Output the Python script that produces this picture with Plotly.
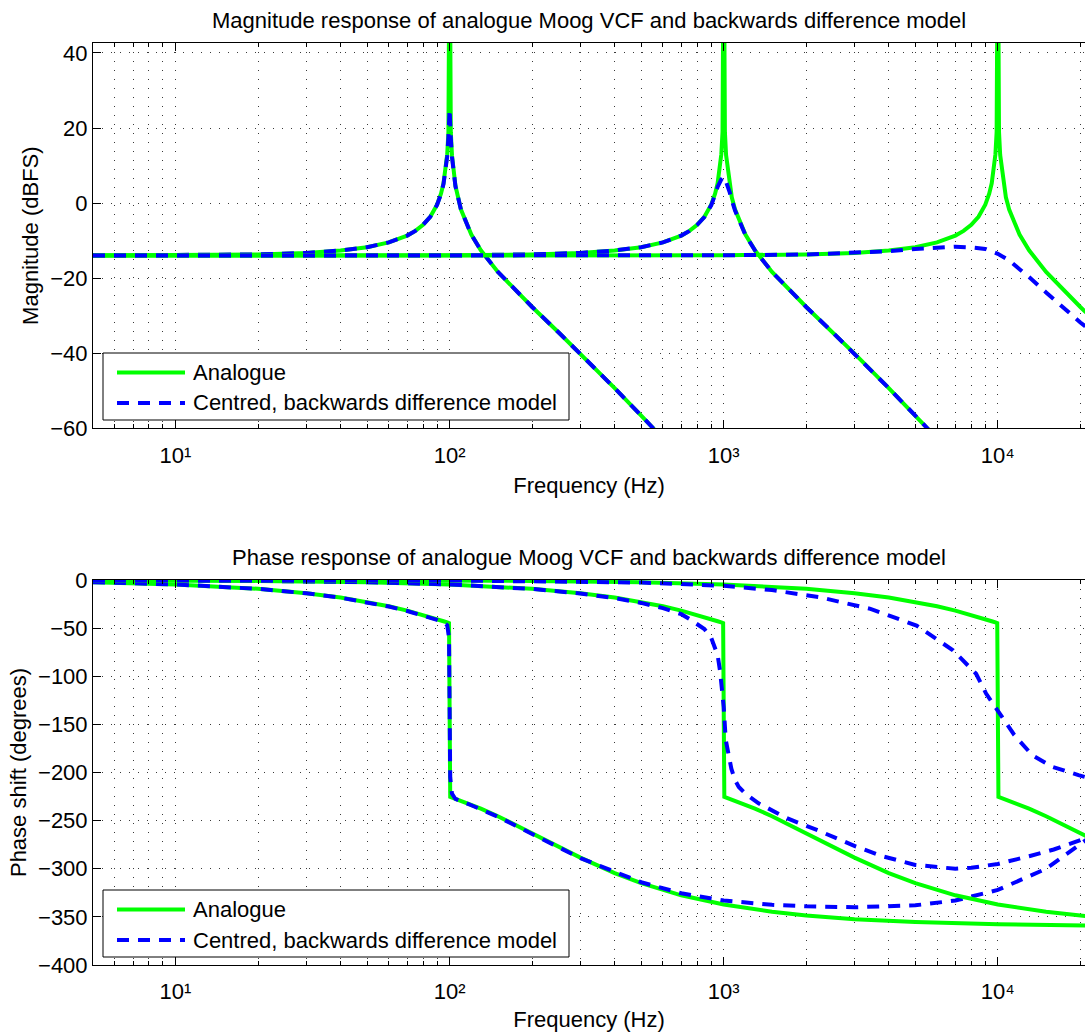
import math
import plotly.graph_objects as go

# ---------------- data ----------------
# Magnitude, analogue, fc = 100 Hz
f_mag_a100 = [5, 10, 20, 30, 40, 50, 60, 70, 75, 80, 85, 90, 93, 95, 98, 99, 100, 101, 102, 105, 107, 110,
              120, 130, 150, 200, 250, 300, 400, 500, 600]
mag_a100 = [-13.96, -13.90, -13.67, -13.26, -12.63, -11.74, -10.48, -8.65, -7.40, -5.79, -3.63, -0.41, 2.49,
            5.27, 13.05, 19.0, 80, 18.9, 12.78, 4.61, 1.56, -1.73, -8.39, -12.57, -18.33, -27.67, -34.47,
            -40.10, -49.29, -56.63, -62.7]
# Magnitude, model, fc = 100 Hz
f_mag_m100 = [5, 10, 20, 30, 40, 50, 60, 70, 75, 80, 85, 90, 93, 95, 98, 99, 100, 101, 102, 105, 107, 110,
              120, 130, 150, 200, 250, 300, 400, 500, 600]
mag_m100 = [-13.96, -13.90, -13.67, -13.26, -12.63, -11.74, -10.48, -8.65, -7.40, -5.79, -3.63, -0.45, 2.4,
            5.1, 12.5, 17.5, 25.0, 17.4, 12.3, 4.5, 1.5, -1.75, -8.4, -12.6, -18.33, -27.67, -34.47,
            -40.10, -49.29, -56.63, -62.7]
# Magnitude, analogue, fc = 1 kHz
f_mag_a1k = [5, 10, 50, 100, 200, 300, 400, 500, 600, 700, 750, 800, 850, 900, 930, 950, 980, 990, 1000,
             1010, 1020, 1050, 1070, 1100, 1200, 1300, 1500, 2000, 2500, 3000, 4000, 5000, 6000]
mag_a1k = [-13.98, -13.98, -13.96, -13.90, -13.67, -13.26, -12.63, -11.74, -10.48, -8.65, -7.40, -5.79, -3.63,
           -0.41, 2.49, 5.27, 13.05, 19.0, 80, 18.9, 12.78, 4.61, 1.56, -1.73, -8.39, -12.57, -18.33, -27.67,
           -34.47, -40.10, -49.29, -56.63, -62.7]
# Magnitude, model, fc = 1 kHz
f_mag_m1k = [5, 10, 50, 100, 200, 300, 400, 500, 600, 700, 750, 800, 850, 900, 930, 950, 980, 990, 1000,
             1010, 1020, 1050, 1070, 1100, 1200, 1300, 1500, 2000, 2500, 3000, 4000, 5000, 6000]
mag_m1k = [-13.98, -13.98, -13.96, -13.90, -13.67, -13.26, -12.63, -11.74, -10.48, -8.65, -7.40, -5.8, -3.7,
           -0.6, 2.3, 4.3, 6.3, 6.8, 7.0, 6.6, 5.8, 3.0, 0.8, -2.0, -8.5, -12.6, -18.33, -27.67,
           -34.47, -40.10, -49.29, -56.63, -62.7]
# Magnitude, analogue, fc = 10 kHz
f_mag_a10k = [5, 100, 500, 1000, 2000, 3000, 4000, 5000, 6000, 7000, 7500, 8000, 8500, 9000, 9300, 9500, 9800,
              9900, 10000, 10100, 10200, 10500, 10700, 11000, 12000, 13000, 15000, 20000, 21000]
mag_a10k = [-13.98, -13.98, -13.96, -13.90, -13.67, -13.26, -12.63, -11.74, -10.48, -8.65, -7.40, -5.79, -3.63,
            -0.41, 2.49, 5.27, 13.05, 19.0, 80, 18.9, 12.78, 4.61, 1.56, -1.73, -8.39, -12.57, -18.33,
            -27.67, -29.16]
# Magnitude, model, fc = 10 kHz
f_mag_m10k = [5, 100, 500, 1000, 2000, 3000, 4000, 5000, 6000, 7000, 8000, 9000, 10000, 11000, 12000, 13000,
              15000, 18000, 20000, 21000]
mag_m10k = [-13.98, -13.98, -13.96, -13.90, -13.7, -13.3, -12.8, -12.2, -11.8, -11.6, -11.8, -12.2, -13.5,
            -15.3, -17.6, -19.7, -23.8, -29.0, -31.8, -33.0]

# Phase, analogue, fc = 100 Hz
f_ph_a100 = [5, 10, 20, 30, 40, 50, 60, 70, 80, 90, 95, 98, 99.5, 100.5, 102, 105, 110, 120, 130, 150, 200, 250,
             300, 400, 500, 700, 1000, 1500, 2000, 3000, 5000, 10000, 21000]
ph_a100 = [-2.29, -4.58, -9.16, -13.73, -18.29, -22.83, -27.35, -31.83, -36.27, -40.64, -42.87, -44.1, -44.8,
           -225.2, -225.9, -227.2, -229.3, -233.4, -237.5, -245.4, -262.9, -277.1, -288.4, -304.5, -315.0,
           -327.6, -337.2, -344.7, -348.6, -352.4, -355.4, -357.7, -358.9]
# Phase, model, fc = 100 Hz
f_ph_m100 = [5, 10, 20, 30, 40, 50, 60, 70, 80, 90, 95, 98, 99.5, 100, 100.5, 102, 105, 110, 120, 150, 200, 300,
             500, 700, 1000, 1500, 2000, 3000, 5000, 7000, 10000, 15000, 21000]
ph_m100 = [-2.29, -4.58, -9.2, -13.8, -18.4, -23.0, -27.6, -32.2, -36.8, -41.5, -44.0, -47.0, -60.0, -135.0,
           -205.0, -222.0, -227.5, -229.8, -234.0, -246.0, -263.5, -289.0, -314.0, -325.5, -333.0, -337.5,
           -339.0, -340.0, -338.0, -333.0, -322.0, -300.0, -270.0]
# Phase, analogue, fc = 1 kHz
f_ph_a1k = [5, 10, 20, 50, 100, 200, 300, 400, 500, 600, 700, 800, 900, 950, 980, 995, 1005, 1020, 1050, 1100,
            1200, 1300, 1500, 2000, 2500, 3000, 4000, 5000, 7000, 10000, 15000, 20000, 21000]
ph_a1k = [-0.23, -0.46, -0.92, -2.29, -4.58, -9.16, -13.73, -18.29, -22.83, -27.35, -31.83, -36.27, -40.64,
          -42.87, -44.1, -44.8, -225.2, -225.9, -227.2, -229.3, -233.4, -237.5, -245.4, -262.9, -277.1,
          -288.4, -304.5, -315.0, -327.6, -337.2, -344.7, -348.6, -349.1]
# Phase, model, fc = 1 kHz
f_ph_m1k = [5, 10, 20, 50, 100, 200, 300, 400, 500, 600, 700, 750, 800, 850, 900, 950, 970, 985, 1000, 1017,
            1040, 1066, 1100, 1135, 1200, 1340, 1700, 2200, 3040, 3800, 5000, 7000, 8000, 10000, 13000, 16000,
            21000]
ph_m1k = [-0.23, -0.46, -0.92, -2.3, -4.6, -9.3, -14.0, -18.8, -23.8, -29.2, -35.5, -40.5, -45.5, -51.0,
          -60.0, -78.0, -95.0, -112.0, -132.0, -166.0, -183.0, -196.0, -208.0, -215.0, -222.0, -232.0,
          -247.5, -260.0, -277.0, -287.0, -296.0, -300.0, -299.0, -295.0, -287.0, -280.0, -268.0]
# Phase, analogue, fc = 10 kHz
f_ph_a10k = [5, 50, 100, 200, 500, 1000, 2000, 3000, 4000, 5000, 6000, 7000, 8000, 9000, 9500, 9800, 9950,
             10050, 10200, 10500, 11000, 12000, 13000, 15000, 20000, 21000]
ph_a10k = [-0.02, -0.23, -0.46, -0.92, -2.29, -4.58, -9.16, -13.73, -18.29, -22.83, -27.35, -31.83, -36.27,
           -40.64, -42.87, -44.1, -44.8, -225.2, -225.9, -227.2, -229.3, -233.4, -237.5, -245.4, -262.9,
           -266.0]
# Phase, model, fc = 10 kHz
f_ph_m10k = [5, 100, 500, 1000, 1500, 2250, 3430, 5050, 6860, 8330, 9060, 10140, 11480, 13350, 15760, 19690,
             21000]
ph_m10k = [0.0, -0.5, -2.6, -6.0, -10.5, -18.0, -30.0, -47.3, -73.0, -97.4, -118.0, -138.8, -161.0, -182.0,
           -194.0, -202.7, -205.0]

x_tick_vals = [10, 100, 1000, 10000]
x_tick_text = ["10\u00b9", "10\u00b2", "10\u00b3", "10\u2074"]
x_minor_vals = [6, 7, 8, 9, 20, 30, 40, 50, 60, 70, 80, 90, 200, 300, 400, 500, 600, 700, 800, 900,
                2000, 3000, 4000, 5000, 6000, 7000, 8000, 9000, 20000]

legend_labels = ["Analogue", "Centred, backwards difference model"]
titles = ["Magnitude response of analogue Moog VCF and backwards difference model",
          "Phase response of analogue Moog VCF and backwards difference model"]

# ---------------- styling ----------------
W, H = 1085, 1032
ML, MR, MT, MB = 93, 0, 43, 67
PW, PH = W - ML - MR, H - MT - MB
FONT = "Liberation Sans, Arial, Helvetica, sans-serif"
FS = 22
GREEN = "#00ff00"
BLUE = "#0000ff"
GRID = "#3a3a3a"
GDASH = "1px,8px"
LW = 4
BDASH = "12px,9px"


def px(x):
    return (x - ML) / PW


def py(y):
    return (H - MB - y) / PH


fig = go.Figure()

pairs_mag = [(f_mag_a100, mag_a100, f_mag_m100, mag_m100),
             (f_mag_a1k, mag_a1k, f_mag_m1k, mag_m1k),
             (f_mag_a10k, mag_a10k, f_mag_m10k, mag_m10k)]
pairs_ph = [(f_ph_a100, ph_a100, f_ph_m100, ph_m100),
            (f_ph_a1k, ph_a1k, f_ph_m1k, ph_m1k),
            (f_ph_a10k, ph_a10k, f_ph_m10k, ph_m10k)]

for xa, ya, pairs in (("x", "y", pairs_mag), ("x2", "y2", pairs_ph)):
    for fa, va, fm, vm in pairs:
        fig.add_trace(go.Scatter(x=fa, y=va, mode="lines", xaxis=xa, yaxis=ya, showlegend=False,
                                 line=dict(color=GREEN, width=LW), name=legend_labels[0]))
        fig.add_trace(go.Scatter(x=fm, y=vm, mode="lines", xaxis=xa, yaxis=ya, showlegend=False,
                                 line=dict(color=BLUE, width=LW, dash=BDASH), name=legend_labels[1]))


def xaxis_style(anchor):
    return dict(
        type="log", range=[math.log10(5), 4.318], anchor=anchor, domain=[0, 1],
        showline=True, linecolor="black", linewidth=1, mirror="ticks",
        ticks="inside", ticklen=8, tickwidth=1, tickcolor="black",
        tickmode="array", tickvals=x_tick_vals, ticktext=x_tick_text,
        tickfont=dict(family=FONT, size=FS, color="black"), ticklabelstandoff=7,
        showgrid=True, gridcolor=GRID, gridwidth=1, griddash=GDASH, zeroline=False,
        minor=dict(tickmode="array", tickvals=x_minor_vals, ticks="inside", ticklen=4,
                   tickcolor="black", tickwidth=1, showgrid=True, gridcolor=GRID,
                   gridwidth=1, griddash=GDASH),
        title=dict(text="Frequency (Hz)", font=dict(family=FONT, size=FS, color="black"), standoff=10),
    )


def yaxis_style(anchor, dom, rng, dtick, title):
    return dict(
        anchor=anchor, domain=dom, range=rng, dtick=dtick, tick0=0,
        showline=True, linecolor="black", linewidth=1, mirror=False,
        ticks="inside", ticklen=8, tickwidth=1, tickcolor="black",
        tickfont=dict(family=FONT, size=FS, color="black"),
        showgrid=True, gridcolor=GRID, gridwidth=1, griddash=GDASH, zeroline=False,
        title=dict(text=title, font=dict(family=FONT, size=FS, color="black"), standoff=5),
    )


top_dom = [py(428.3), 1]
bot_dom = [0, py(580)]

fig.update_layout(
    width=W, height=H,
    margin=dict(l=ML, r=MR, t=MT, b=MB, autoexpand=False),
    paper_bgcolor="white", plot_bgcolor="white",
    font=dict(family=FONT, size=FS, color="black"),
    xaxis=xaxis_style("y"),
    yaxis=yaxis_style("x", top_dom, [-60, 42.66], 20, "Magnitude (dBFS)"),
    xaxis2=xaxis_style("y2"),
    yaxis2=yaxis_style("x2", bot_dom, [-400, 0], 50, "Phase shift (degrees)"),
    showlegend=False,
)

annotations = []
shapes = []
# subplot titles
for t, yc in zip(titles, (20.7, 557.4)):
    annotations.append(dict(text=t, x=px(589), y=py(yc), xref="paper", yref="paper",
                            xanchor="center", yanchor="middle", showarrow=False,
                            font=dict(family=FONT, size=FS, color="black")))

# legends (one per subplot)
for box_top in (353, 890):
    shapes.append(dict(type="rect", xref="paper", yref="paper",
                       x0=px(103), x1=px(569), y0=py(box_top), y1=py(box_top + 67),
                       line=dict(color="black", width=1), fillcolor="white", layer="above"))
    rows = (box_top + 19.5, box_top + 50)
    for (lab, col, dash), yr in zip(((legend_labels[0], GREEN, "solid"), (legend_labels[1], BLUE, BDASH)), rows):
        shapes.append(dict(type="line", xref="paper", yref="paper",
                           x0=px(117), x1=px(185), y0=py(yr), y1=py(yr),
                           line=dict(color=col, width=LW, dash=dash), layer="above"))
        annotations.append(dict(text=lab, x=px(191), y=py(yr), xref="paper", yref="paper",
                                xanchor="left", yanchor="middle", showarrow=False,
                                font=dict(family=FONT, size=FS, color="black")))

fig.update_layout(annotations=annotations, shapes=shapes)

fig.write_html("out.html")
